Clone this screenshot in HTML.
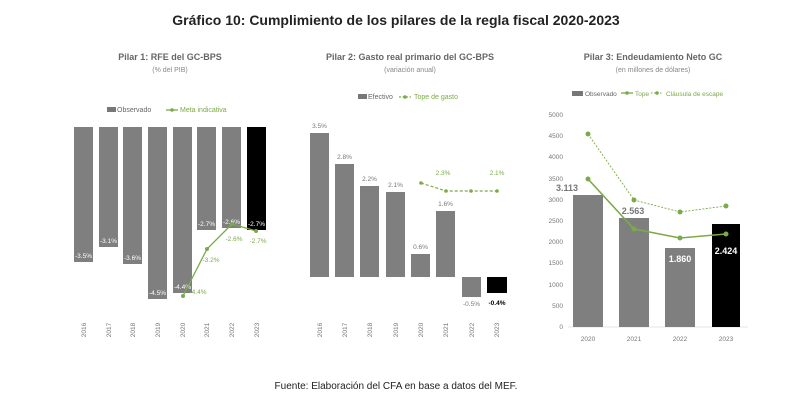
<!DOCTYPE html>
<html><head><meta charset="utf-8"><style>
body{margin:0;background:#fff;}
svg text{font-family:"Liberation Sans",sans-serif;}
</style></head><body>
<svg width="792" height="404" viewBox="0 0 792 404" xmlns="http://www.w3.org/2000/svg">
<rect width="792" height="404" fill="#fff"/>
<text x="396" y="25" text-anchor="middle" font-size="14" font-weight="bold" fill="#222">Gráfico 10: Cumplimiento de los pilares de la regla fiscal 2020-2023</text>
<text x="396" y="389" text-anchor="middle" font-size="10" fill="#222">Fuente: Elaboración del CFA en base a datos del MEF.</text>

<!-- Panel 1 -->
<g>
<text x="170" y="60" text-anchor="middle" font-size="9" font-weight="bold" fill="#666">Pilar 1: RFE del GC-BPS</text>
<text x="170" y="72" text-anchor="middle" font-size="7" fill="#888">(% del PIB)</text>
<rect x="107" y="107" width="9" height="5" fill="#777"/>
<text x="117" y="112" font-size="7" fill="#666">Observado</text>
<line x1="166" y1="110" x2="178" y2="110" stroke="#7bab48" stroke-width="1.3"/><circle cx="172" cy="110" r="1.8" fill="#7bab48"/>
<text x="180" y="112" font-size="7" fill="#7bab48">Meta indicativa</text>
<g fill="#7f7f7f">
<rect x="74" y="127" width="19" height="135"/>
<rect x="99" y="127" width="19" height="120"/>
<rect x="123" y="127" width="19" height="137"/>
<rect x="148" y="127" width="19" height="172"/>
<rect x="173" y="127" width="19" height="166"/>
<rect x="197" y="127" width="19" height="103"/>
<rect x="222" y="127" width="19" height="101"/>
</g>
<rect x="247" y="127" width="19" height="103" fill="#000"/>
<g font-size="6.5" fill="#fff" text-anchor="middle">
<text x="83.5" y="258">-3.5%</text><text x="108.5" y="243">-3.1%</text><text x="132.5" y="260">-3.6%</text>
<text x="157.5" y="295">-4.5%</text><text x="182.5" y="289">-4.4%</text><text x="206.5" y="226">-2.7%</text>
<text x="231.5" y="224">-2.6%</text><text x="256.5" y="226">-2.7%</text>
</g>
<polyline points="183,296 207,249 232,224 256,231" fill="none" stroke="#7bab48" stroke-width="1.3"/>
<g fill="#7bab48"><circle cx="183" cy="296" r="2"/><circle cx="207" cy="249" r="2"/><circle cx="232" cy="224" r="2"/><circle cx="256" cy="231" r="2"/></g>
<g font-size="6.5" fill="#7bab48" text-anchor="middle">
<text x="198" y="294">-4.4%</text><text x="211" y="262">-3.2%</text><text x="234" y="241">-2.6%</text><text x="258" y="243">-2.7%</text>
</g>
<g font-size="6.5" fill="#777" text-anchor="middle">
<text transform="translate(86,330) rotate(-90)">2016</text><text transform="translate(111,330) rotate(-90)">2017</text>
<text transform="translate(135,330) rotate(-90)">2018</text><text transform="translate(160,330) rotate(-90)">2019</text>
<text transform="translate(185,330) rotate(-90)">2020</text><text transform="translate(209,330) rotate(-90)">2021</text>
<text transform="translate(234,330) rotate(-90)">2022</text><text transform="translate(259,330) rotate(-90)">2023</text>
</g>
</g>

<!-- Panel 2 -->
<g>
<text x="410" y="60" text-anchor="middle" font-size="9" font-weight="bold" fill="#666">Pilar 2: Gasto real primario del GC-BPS</text>
<text x="410" y="72" text-anchor="middle" font-size="7" fill="#888">(variación anual)</text>
<rect x="358" y="94" width="9" height="5" fill="#777"/>
<text x="368" y="99" font-size="7" fill="#666">Efectivo</text>
<line x1="399" y1="97" x2="411" y2="97" stroke="#7bab48" stroke-width="1.2" stroke-dasharray="2,1.5"/><circle cx="405" cy="97" r="1.8" fill="#7bab48"/>
<text x="414" y="99" font-size="7" fill="#7bab48">Tope de gasto</text>
<g fill="#7f7f7f">
<rect x="310" y="133" width="19" height="144"/>
<rect x="335" y="164" width="19" height="113"/>
<rect x="360" y="186" width="19" height="91"/>
<rect x="386" y="192" width="19" height="85"/>
<rect x="411" y="254" width="19" height="23"/>
<rect x="436" y="211" width="19" height="66"/>
<rect x="462" y="277" width="19" height="20"/>
</g>
<rect x="487" y="277" width="20" height="16" fill="#000"/>
<g font-size="6.5" fill="#777" text-anchor="middle">
<text x="319.5" y="128">3.5%</text><text x="344.5" y="159">2.8%</text><text x="369.5" y="181">2.2%</text>
<text x="395.5" y="187">2.1%</text><text x="420.5" y="249">0.6%</text><text x="445.5" y="206">1.6%</text>
<text x="471.5" y="306">-0.5%</text>
</g>
<text x="497" y="305" font-size="6.5" font-weight="bold" fill="#000" text-anchor="middle">-0.4%</text>
<polyline points="421,183 446,191 471,191 497,191" fill="none" stroke="#7bab48" stroke-width="1.2" stroke-dasharray="3,2"/>
<g fill="#7bab48"><circle cx="421" cy="183" r="1.8"/><circle cx="446" cy="191" r="1.8"/><circle cx="471" cy="191" r="1.8"/><circle cx="497" cy="191" r="1.8"/></g>
<g font-size="6.5" fill="#7bab48" text-anchor="middle"><text x="443" y="175">2.3%</text><text x="497" y="175">2.1%</text></g>
<g font-size="6.5" fill="#777" text-anchor="middle">
<text transform="translate(322,330) rotate(-90)">2016</text><text transform="translate(347,330) rotate(-90)">2017</text>
<text transform="translate(372,330) rotate(-90)">2018</text><text transform="translate(398,330) rotate(-90)">2019</text>
<text transform="translate(423,330) rotate(-90)">2020</text><text transform="translate(448,330) rotate(-90)">2021</text>
<text transform="translate(474,330) rotate(-90)">2022</text><text transform="translate(499,330) rotate(-90)">2023</text>
</g>
</g>

<!-- Panel 3 -->
<g>
<text x="653" y="60" text-anchor="middle" font-size="9" font-weight="bold" fill="#666">Pilar 3: Endeudamiento Neto GC</text>
<text x="653" y="72" text-anchor="middle" font-size="7" fill="#888">(en millones de dólares)</text>
<rect x="572" y="91" width="11" height="5" fill="#777"/>
<text x="585" y="96" font-size="6.5" fill="#666">Observado</text>
<line x1="621" y1="93" x2="633" y2="93" stroke="#7bab48" stroke-width="1.3"/><circle cx="627" cy="93" r="1.8" fill="#7bab48"/>
<text x="635" y="96" font-size="6.5" fill="#7bab48">Tope</text>
<line x1="651" y1="93" x2="663" y2="93" stroke="#7bab48" stroke-width="1" stroke-dasharray="1.5,1.5"/><circle cx="657" cy="93" r="1.8" fill="#7bab48"/>
<text x="666" y="96" font-size="6.5" fill="#7bab48">Cláusula de escape</text>
<g font-size="6.5" fill="#777" text-anchor="end">
<text x="563" y="117">5000</text><text x="563" y="138">4500</text><text x="563" y="159">4000</text><text x="563" y="181">3500</text>
<text x="563" y="202">3000</text><text x="563" y="223">2500</text><text x="563" y="244">2000</text><text x="563" y="265">1500</text>
<text x="563" y="287">1000</text><text x="563" y="308">500</text><text x="563" y="329">0</text>
</g>
<line x1="568" y1="327" x2="748" y2="327" stroke="#ddd" stroke-width="0.8"/>
<g fill="#7f7f7f">
<rect x="573" y="195" width="30" height="132"/>
<rect x="619" y="218" width="30" height="109"/>
<rect x="665" y="248" width="30" height="79"/>
</g>
<rect x="712" y="224" width="28" height="103" fill="#000"/>
<polyline points="588,134 634,200 680,212 726,206" fill="none" stroke="#7bab48" stroke-width="0.9" stroke-dasharray="2,1.5"/>
<polyline points="588,179 634,229 680,238 726,234" fill="none" stroke="#7bab48" stroke-width="1.6"/>
<g fill="#7bab48">
<circle cx="588" cy="134" r="2.5"/><circle cx="634" cy="200" r="2.5"/><circle cx="680" cy="212" r="2.5"/><circle cx="726" cy="206" r="2.5"/>
<circle cx="588" cy="179" r="2.5"/><circle cx="634" cy="229" r="2.5"/><circle cx="680" cy="238" r="2.5"/><circle cx="726" cy="234" r="2.5"/>
</g>
<text x="567" y="191" font-size="9" font-weight="bold" fill="#777" text-anchor="middle">3.113</text>
<text x="633" y="214" font-size="9" font-weight="bold" fill="#777" text-anchor="middle">2.563</text>
<text x="680" y="262" font-size="9" font-weight="bold" fill="#fff" text-anchor="middle">1.860</text>
<text x="726" y="254" font-size="9" font-weight="bold" fill="#fff" text-anchor="middle">2.424</text>
<g font-size="6.5" fill="#777" text-anchor="middle">
<text x="588" y="341">2020</text><text x="634" y="341">2021</text><text x="680" y="341">2022</text><text x="726" y="341">2023</text>
</g>
</g>
</svg>
</body></html>
